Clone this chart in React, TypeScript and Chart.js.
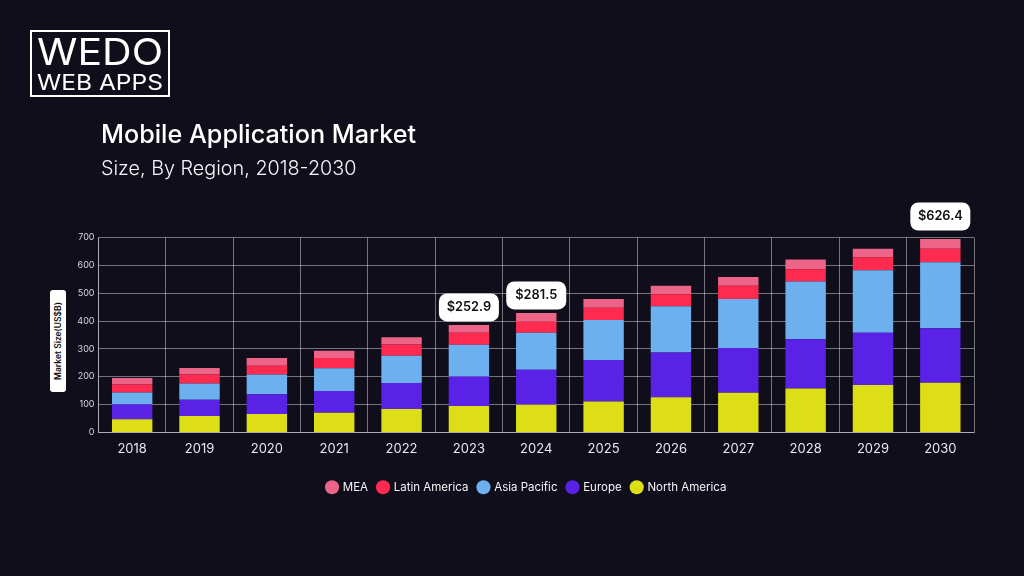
import React, { useEffect, useRef } from "react";
import { Chart, registerables } from "chart.js";

Chart.register(...registerables);

const years = ["2018","2019","2020","2021","2022","2023","2024","2025","2026","2027","2028","2029","2030"];
const northAmerica = [47,59,66,71,84,95,99,111,126,142,158,170,178];
const europe = [54,58,71,78,93,106,126,149,161,161,177,188,196];
const asiaPacific = [42,59,71,81,98,114,133,144,166,176,207,224,237];
const latinAmerica = [29,32,31,37,41,43,40,44,43,48,44,47,49];
const mea = [23,23,28,26,26,28,31,31,31,31,35,31,35];
const callouts: Record<string, string> = { "2023": "$252.9", "2024": "$281.5", "2030": "$626.4" };

const BG = "#100e1b";
const FONT = "Inter";

const calloutPlugin = {
  id: "callouts",
  afterLayout(chart: any) {
    chart.legend.left += 10;
    chart.legend.right += 10;
  },
  afterDatasetsDraw(chart: any) {
    const ctx = chart.ctx;
    const topMeta = chart.getDatasetMeta(chart.data.datasets.length - 1);
    years.forEach((y, i) => {
      const label = callouts[y];
      if (!label) return;
      const bar = topMeta.data[i];
      const w = 60, h = 28;
      const top = chart.chartArea.top;
      const bottom = bar.y - top < 15 ? top - 7 : bar.y - 3.5;
      ctx.save();
      ctx.fillStyle = "#ffffff";
      ctx.beginPath();
      ctx.roundRect(bar.x - w / 2, bottom - h, w, h, 8);
      ctx.fill();
      ctx.fillStyle = "#111111";
      ctx.font = `600 12.8px ${FONT}`;
      ctx.textAlign = "center";
      ctx.textBaseline = "middle";
      ctx.fillText(label, bar.x, bottom - h / 2);
      ctx.restore();
    });
  },
};

export default function App() {
  const ref = useRef<HTMLCanvasElement>(null);
  useEffect(() => {
    document.body.style.margin = "0";
    document.body.style.background = BG;
    const chart = new Chart(ref.current!, {
      type: "bar",
      data: {
        labels: years,
        datasets: [
          { label: "North America", data: northAmerica, backgroundColor: "#dede16" },
          { label: "Europe", data: europe, backgroundColor: "#5a22e6" },
          { label: "Asia Pacific", data: asiaPacific, backgroundColor: "#6cb0f0" },
          { label: "Latin America", data: latinAmerica, backgroundColor: "#ff2a50" },
          { label: "MEA", data: mea, backgroundColor: "#ec6488" },
        ],
      },
      plugins: [calloutPlugin],
      options: {
        animation: false,
        responsive: false,
        devicePixelRatio: 1,
        categoryPercentage: 1,
        barPercentage: 0.6,
        layout: { padding: { left: 59.5, right: 50, top: 237.5, bottom: 73 } },
        plugins: {
          title: { display: false },
          tooltip: { enabled: false },
          legend: {
            position: "bottom",
            reverse: true,
            labels: {
              usePointStyle: true,
              pointStyle: "circle",
              boxWidth: 10,
              boxHeight: 10,
              padding: 10,
              color: "#f4f4f6",
              font: { family: FONT, size: 11.5 },
            },
          },
        },
        scales: {
          x: {
            stacked: true,
            afterFit: (s: any) => { s.height += 6.5; },
            grid: { color: "rgba(255,255,255,0.42)", drawTicks: false, offset: true },
            border: { color: "rgba(255,255,255,0.42)" },
            ticks: { color: "#e8e8ee", font: { family: FONT, size: 13 }, padding: 8.5, maxRotation: 0 },
          },
          y: {
            stacked: true,
            min: 0,
            max: 700,
            afterFit: (s: any) => { s.width = 39; },
            grid: { color: "rgba(255,255,255,0.42)", drawTicks: false },
            border: { color: "rgba(255,255,255,0.42)" },
            ticks: { stepSize: 100, color: "#d8d8de", font: { family: FONT, size: 9 }, padding: 4 },
          },
        },
      },
    } as any);
    return () => chart.destroy();
  }, []);

  const abs = (o: React.CSSProperties): React.CSSProperties => ({ position: "absolute", whiteSpace: "nowrap", fontFamily: FONT, ...o });

  return (
    <div style={{ position: "relative", width: 1024, height: 576, background: BG, overflow: "hidden" }}>
      <canvas ref={ref} width={1024} height={576} style={{ position: "absolute", left: 0, top: 0, width: 1024, height: 576 }} />
      <svg style={{ position: "absolute", left: 30, top: 30 }} width={140} height={67}>
        <rect x={1} y={1} width={138} height={65} fill="none" stroke="#fff" strokeWidth={2} />
        <text x={7} y={35} textLength={126} lengthAdjust="spacingAndGlyphs" fill="#fff" fontFamily={FONT} fontWeight={400} fontSize={37}>WEDO</text>
        <text x={7} y={60} textLength={126} lengthAdjust="spacingAndGlyphs" fill="#fff" fontFamily={FONT} fontWeight={400} fontSize={22}>WEB APPS</text>
      </svg>
      <div style={abs({ left: 101, top: 119, fontSize: 25.2, lineHeight: "30px", fontWeight: 500, color: "#fff" })}>Mobile Application Market</div>
      <div style={abs({ left: 101, top: 154, fontSize: 19.8, lineHeight: "28px", fontWeight: 300, color: "#f6f6f8" })}>Size, By Region, 2018-2030</div>
      <div style={abs({ left: 50, top: 290, width: 16, height: 102, background: "#fff", borderRadius: 3 })}>
        <div style={abs({ left: 8, top: 51, transform: "translate(-50%,-50%) rotate(-90deg)", fontSize: 8.5, fontWeight: 600, color: "#111" })}>Market Size(US$B)</div>
      </div>
    </div>
  );
}
